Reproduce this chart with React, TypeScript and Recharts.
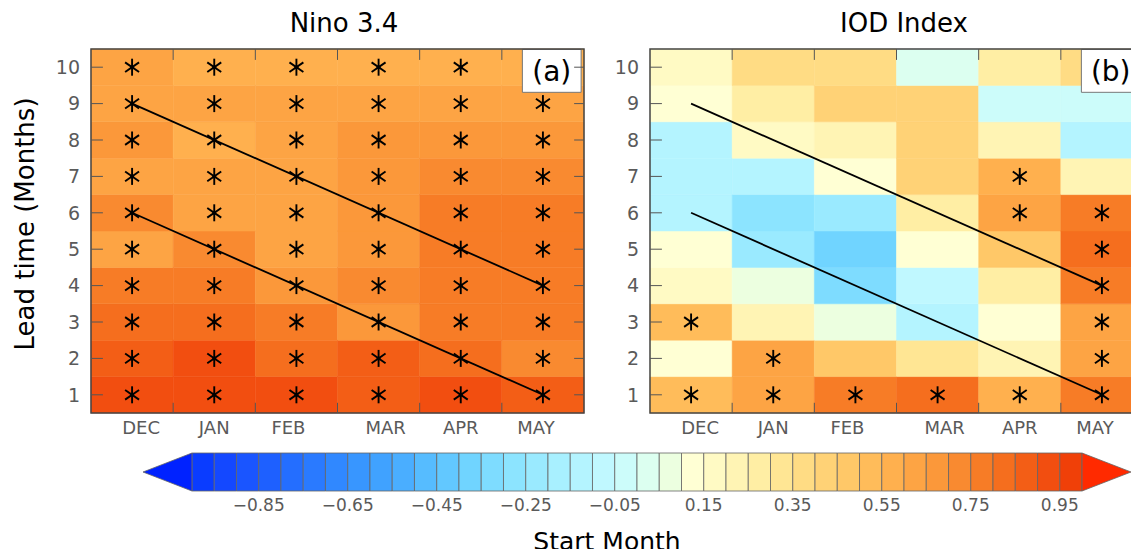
import { ComposedChart, XAxis, YAxis, ReferenceArea, ReferenceLine, Scatter } from "recharts";

const MONTHS = ["DEC", "JAN", "FEB", "MAR", "APR", "MAY"];
const LEADS = [1, 2, 3, 4, 5, 6, 7, 8, 9, 10];
const CBAR_TICKS = [-0.85, -0.65, -0.45, -0.25, -0.05, 0.15, 0.35, 0.55, 0.75, 0.95];

// correlation skill, lead 1..10, one list per start month
const NINO_DEC = [0.92, 0.86, 0.82, 0.77, 0.64, 0.73, 0.64, 0.69, 0.64, 0.64];
const NINO_JAN = [0.92, 0.92, 0.82, 0.77, 0.71, 0.64, 0.64, 0.58, 0.64, 0.58];
const NINO_FEB = [0.91, 0.84, 0.78, 0.68, 0.62, 0.64, 0.64, 0.64, 0.64, 0.58];
const NINO_MAR = [0.88, 0.88, 0.69, 0.72, 0.69, 0.69, 0.69, 0.69, 0.64, 0.58];
const NINO_APR = [0.94, 0.8, 0.78, 0.76, 0.78, 0.78, 0.73, 0.69, 0.64, 0.58];
const NINO_MAY = [0.86, 0.72, 0.78, 0.78, 0.78, 0.78, 0.73, 0.69, 0.64, 0.58];

const IOD_DEC = [0.53, 0.12, 0.5, 0.17, 0.12, -0.13, -0.13, -0.13, 0.12, 0.17];
const IOD_JAN = [0.6, 0.6, 0.22, 0.07, -0.22, -0.28, -0.13, 0.17, 0.27, 0.35];
const IOD_FEB = [0.77, 0.47, 0.07, -0.33, -0.38, -0.22, 0.12, 0.23, 0.41, 0.35];
const IOD_MAR = [0.81, 0.32, -0.13, -0.08, 0.12, 0.25, 0.41, 0.42, 0.42, 0.02];
const IOD_APR = [0.57, 0.22, 0.12, 0.25, 0.47, 0.6, 0.56, 0.23, -0.03, 0.27];
const IOD_MAY = [0.77, 0.6, 0.6, 0.77, 0.81, 0.77, 0.23, -0.13, -0.03, 0.35];

// significant (asterisk) flags, lead 1..10
const NINO_SIG_DEC = [1, 1, 1, 1, 1, 1, 1, 1, 1, 1];
const NINO_SIG_JAN = [1, 1, 1, 1, 1, 1, 1, 1, 1, 1];
const NINO_SIG_FEB = [1, 1, 1, 1, 1, 1, 1, 1, 1, 1];
const NINO_SIG_MAR = [1, 1, 1, 1, 1, 1, 1, 1, 1, 1];
const NINO_SIG_APR = [1, 1, 1, 1, 1, 1, 1, 1, 1, 1];
const NINO_SIG_MAY = [1, 1, 1, 1, 1, 1, 1, 1, 1, 0];

const IOD_SIG_DEC = [1, 0, 1, 0, 0, 0, 0, 0, 0, 0];
const IOD_SIG_JAN = [1, 1, 0, 0, 0, 0, 0, 0, 0, 0];
const IOD_SIG_FEB = [1, 0, 0, 0, 0, 0, 0, 0, 0, 0];
const IOD_SIG_MAR = [1, 0, 0, 0, 0, 0, 0, 0, 0, 0];
const IOD_SIG_APR = [1, 0, 0, 0, 0, 1, 1, 0, 0, 0];
const IOD_SIG_MAY = [1, 1, 1, 1, 1, 1, 0, 0, 0, 0];

// 40 bins of 0.05 from -1 to 1
const PALETTE = [
  "#0a3cff", "#1448ff", "#1a55ff", "#1e60ff", "#246eff", "#2a7aff", "#3088ff", "#3896ff",
  "#40a2ff", "#4aaeff", "#56bcff", "#62c8ff", "#70d4ff", "#7edcff", "#8ce4ff", "#9aeaff",
  "#a8f0ff", "#b4f4ff", "#c0f8ff", "#ccfcfa", "#dcfff0", "#ecffe0", "#ffffd4", "#fffac4",
  "#fff4b4", "#ffeea4", "#ffe694", "#ffdc84", "#ffd276", "#ffc868", "#ffbc5a", "#ffb04e",
  "#fda444", "#fb983a", "#f98a30", "#f77c26", "#f56e1e", "#f35e16", "#f24e10", "#f04008",
];
const MONTH_NUDGE = [9, 0, -8, 7, 0, -7];
const FONT = "'DejaVu Sans', sans-serif";
const GREY = "#5a5a5a";

const colorOf = (v: number) => PALETTE[Math.max(0, Math.min(39, Math.floor((v + 1) / 0.05)))];

function Asterisk({ cx, cy }: any) {
  const r = 8.5;
  return (
    <g stroke="#000" strokeWidth={1.9}>
      <line x1={cx} y1={cy - r} x2={cx} y2={cy + r} />
      <line x1={cx - r * 0.82} y1={cy - r * 0.57} x2={cx + r * 0.82} y2={cy + r * 0.57} />
      <line x1={cx - r * 0.82} y1={cy + r * 0.57} x2={cx + r * 0.82} y2={cy - r * 0.57} />
      <circle cx={cx} cy={cy} r={2} fill="#000" stroke="none" />
    </g>
  );
}

function MonthTick({ x, y, payload }: any) {
  const i = payload.value - 1;
  return (
    <text x={x + MONTH_NUDGE[i]} y={y} dy="0.71em" textAnchor="middle" fontSize={18} fill={GREY} fontFamily={FONT}>
      {MONTHS[i]}
    </text>
  );
}

function LeadTick({ x, y, payload }: any) {
  return (
    <text x={x} y={y} dy="0.355em" textAnchor="end" fontSize={19} fill={GREY} fontFamily={FONT}>
      {payload.value}
    </text>
  );
}

function Panel({ cols, sig, tag }: { cols: number[][]; sig: number[][]; tag: string }) {
  const stars = cols.flatMap((_, c) => LEADS.filter((l) => sig[c][l - 1]).map((l) => ({ x: c + 1, y: l })));
  const bounds = [1.5, 2.5, 3.5, 4.5, 5.5];
  return (
    <ComposedChart width={600} height={450} margin={{ top: 49, right: 16, bottom: 0, left: 11 }}>
      <XAxis type="number" dataKey="x" domain={[0.5, 6.5]} ticks={[1, 2, 3, 4, 5, 6]} height={37}
        tickSize={0} tickMargin={8} axisLine={false} tickLine={false} tick={<MonthTick />} allowDataOverflow />
      <YAxis type="number" dataKey="y" domain={[0.5, 10.5]} ticks={LEADS} width={80}
        tickSize={0} tickMargin={11} axisLine={false} tickLine={false} tick={<LeadTick />} allowDataOverflow />
      {cols.map((vals, c) =>
        vals.map((v, i) => (
          <ReferenceArea key={`${c}-${i}`} x1={c + 0.5} x2={c + 1.5} y1={i + 0.5} y2={i + 1.5}
            fill={colorOf(v)} fillOpacity={1} stroke={colorOf(v)} strokeWidth={0.5} />
        ))
      )}
      <ReferenceLine segment={[{ x: 1, y: 9 }, { x: 6, y: 4 }]} stroke="#000" strokeWidth={1.8} />
      <ReferenceLine segment={[{ x: 1, y: 6 }, { x: 6, y: 1 }]} stroke="#000" strokeWidth={1.8} />
      <Scatter data={stars} dataKey="y" isAnimationActive={false} shape={<Asterisk />} />
      <ReferenceArea x1={5.75} x2={6.465} y1={9.31} y2={10.49} fill="#fff" fillOpacity={1} stroke="#777" strokeWidth={1}
        label={{ value: tag, position: "center", fontSize: 28, fill: "#000", fontFamily: FONT }} />
      {LEADS.map((l) => (
        <ReferenceLine key={`l${l}`} segment={[{ x: 0.5, y: l }, { x: 0.645, y: l }]} stroke="#555" strokeWidth={1} />
      ))}
      {LEADS.map((l) => (
        <ReferenceLine key={`r${l}`} segment={[{ x: 6.38, y: l }, { x: 6.5, y: l }]} stroke="#555" strokeWidth={1} />
      ))}
      {bounds.map((b) => (
        <ReferenceLine key={`t${b}`} segment={[{ x: b, y: 10.5 }, { x: b, y: 10.2 }]} stroke="#555" strokeWidth={1} />
      ))}
      {bounds.map((b) => (
        <ReferenceLine key={`b${b}`} segment={[{ x: b, y: 0.5 }, { x: b, y: 0.78 }]} stroke="#555" strokeWidth={1} />
      ))}
      <ReferenceArea x1={0.5} x2={6.5} y1={0.5} y2={10.5} fill="none" stroke="#444" strokeWidth={1.5} />
    </ComposedChart>
  );
}

function CbarTick({ x, y, payload }: any) {
  const s = payload.value.toFixed(2).replace("-", "\u2212");
  return (
    <text x={x} y={y} dy="0.71em" textAnchor="middle" fontSize={17} fill={GREY} fontFamily={FONT}>
      {s}
    </text>
  );
}

function ColorBar() {
  const bins = PALETTE.map((c, k) => ({ c, lo: -1 + k * 0.05, hi: -1 + (k + 1) * 0.05 }));
  return (
    <ComposedChart width={1009} height={81} margin={{ top: 13, right: 8, bottom: 0, left: 13 }}>
      <XAxis type="number" dataKey="x" domain={[-1.11, 1.11]} ticks={CBAR_TICKS} height={30}
        tickSize={0} tickMargin={8} axisLine={false} tickLine={false} tick={<CbarTick />} allowDataOverflow />
      <YAxis type="number" dataKey="y" domain={[0, 1]} hide allowDataOverflow />
      <Scatter data={[{ x: 0, y: 0.5 }]} dataKey="y" isAnimationActive={false} shape={() => <g />} />
      {bins.map((b) => (
        <ReferenceArea key={b.lo} x1={b.lo} x2={b.hi} y1={0} y2={1} fill={b.c} fillOpacity={1} stroke="#666" strokeWidth={0.8} />
      ))}
      <ReferenceArea x1={-1.11} x2={-1} y1={0} y2={1}
        shape={(p: any) => (
          <polygon points={`${p.x},${p.y + p.height / 2} ${p.x + p.width},${p.y} ${p.x + p.width},${p.y + p.height}`}
            fill="#0022ff" stroke="#666" strokeWidth={0.8} />
        )} />
      <ReferenceArea x1={1} x2={1.11} y1={0} y2={1}
        shape={(p: any) => (
          <polygon points={`${p.x},${p.y} ${p.x + p.width},${p.y + p.height / 2} ${p.x},${p.y + p.height}`}
            fill="#ff2a00" stroke="#666" strokeWidth={0.8} />
        )} />
    </ComposedChart>
  );
}

export default function App() {
  return (
    <div style={{ position: "relative", width: 1139, height: 557, margin: -8, overflow: "hidden", background: "#fff" }}>
      <div style={{ position: "absolute", left: 0, top: 0 }}>
        <Panel cols={[NINO_DEC, NINO_JAN, NINO_FEB, NINO_MAR, NINO_APR, NINO_MAY]}
          sig={[NINO_SIG_DEC, NINO_SIG_JAN, NINO_SIG_FEB, NINO_SIG_MAR, NINO_SIG_APR, NINO_SIG_MAY]} tag="(a)" />
      </div>
      <div style={{ position: "absolute", left: 559, top: 0 }}>
        <Panel cols={[IOD_DEC, IOD_JAN, IOD_FEB, IOD_MAR, IOD_APR, IOD_MAY]}
          sig={[IOD_SIG_DEC, IOD_SIG_JAN, IOD_SIG_FEB, IOD_SIG_MAR, IOD_SIG_APR, IOD_SIG_MAY]} tag="(b)" />
      </div>
      <div style={{ position: "absolute", left: 130, top: 440 }}>
        <ColorBar />
      </div>
      <svg width={1139} height={557} style={{ position: "absolute", left: 0, top: 0, pointerEvents: "none" }}>
        <g fontFamily={FONT} fill="#000">
          <text x={344} y={32} fontSize={26} textAnchor="middle">Nino 3.4</text>
          <text x={904} y={32} fontSize={26} textAnchor="middle">IOD Index</text>
          <text x={34} y={224} fontSize={26} textAnchor="middle" transform="rotate(-90 34 224)">Lead time (Months)</text>
          <text x={607} y={550} fontSize={25} textAnchor="middle">Start Month</text>
        </g>
      </svg>
    </div>
  );
}
